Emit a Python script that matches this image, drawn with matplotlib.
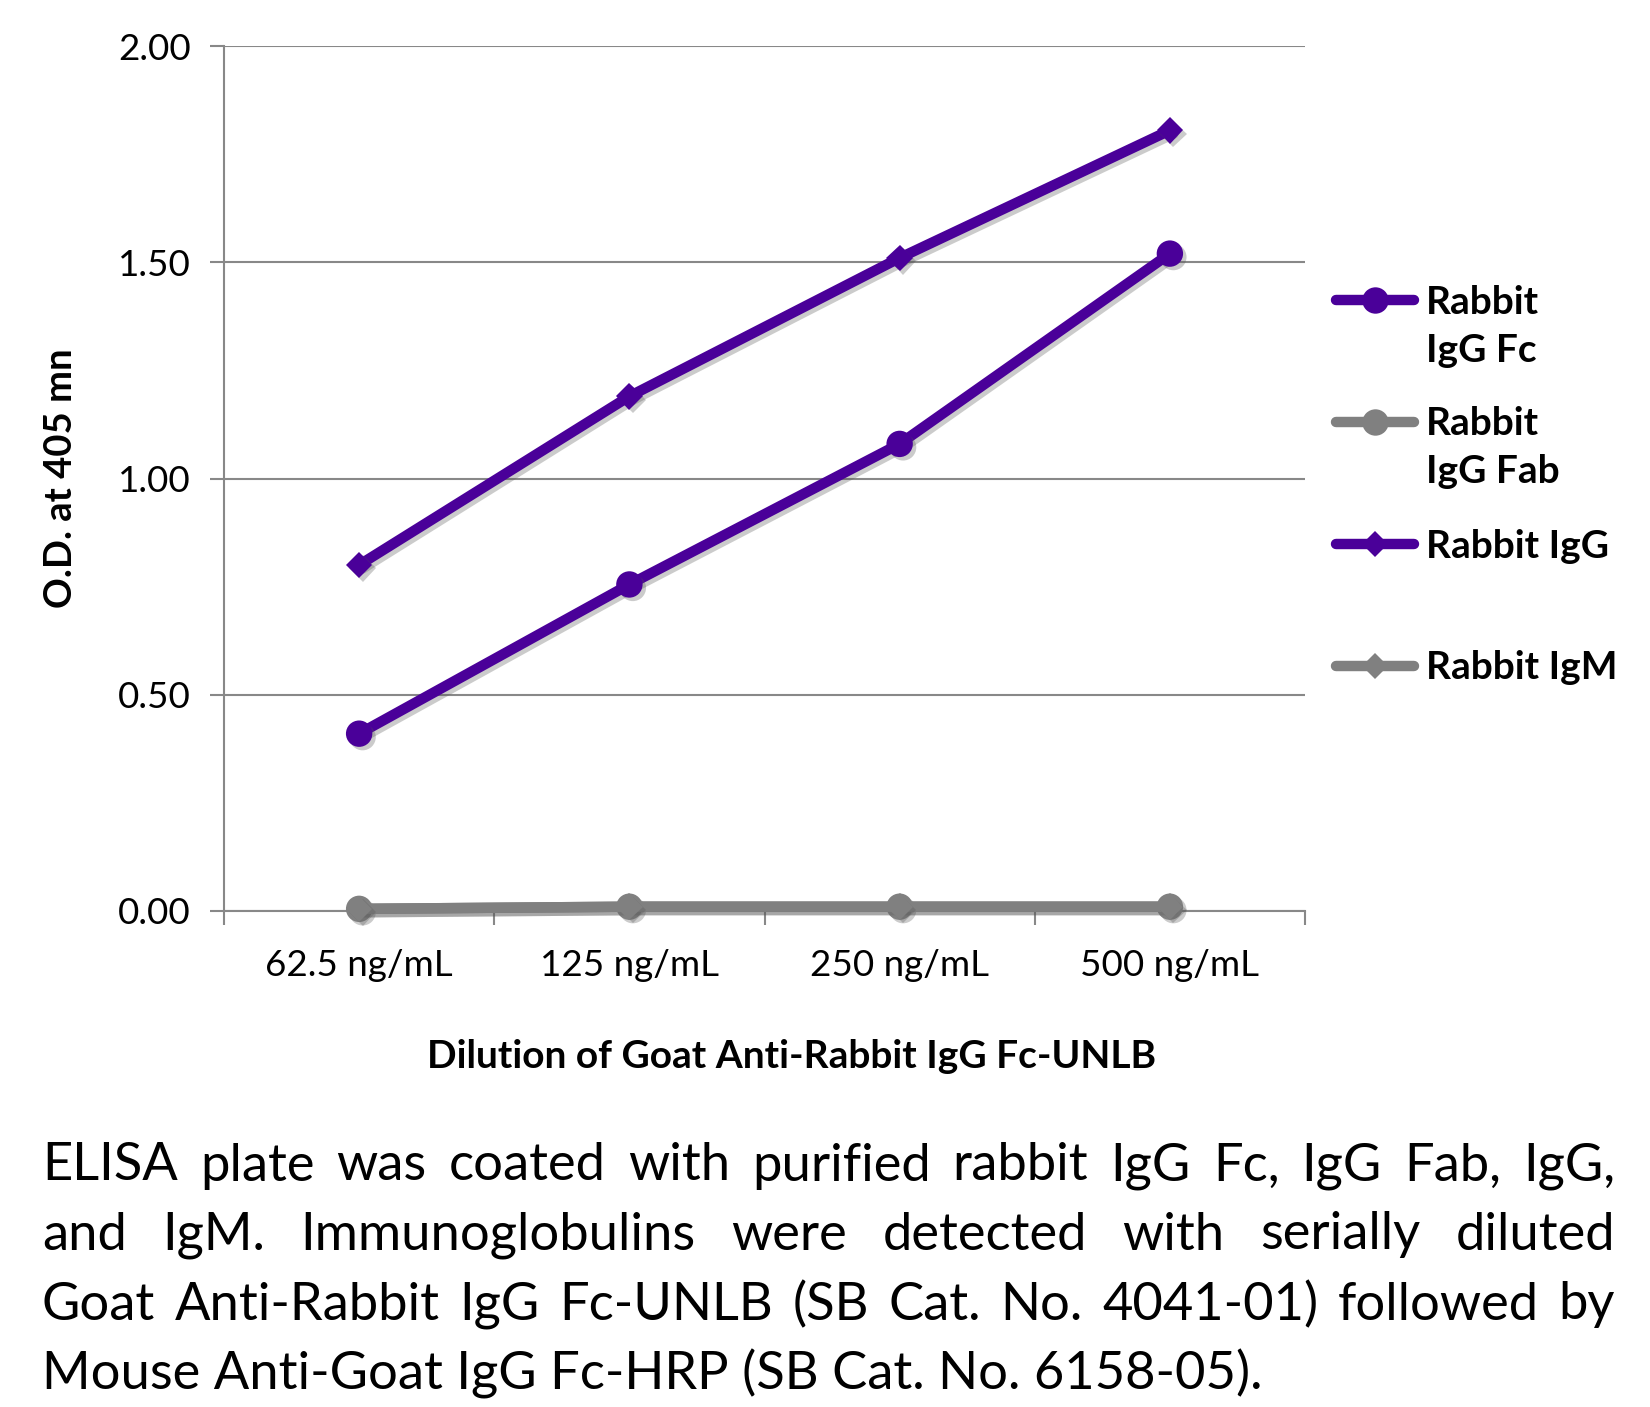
import matplotlib
matplotlib.use('Agg')
import matplotlib.pyplot as plt
import matplotlib.patheffects as pe
from matplotlib.lines import Line2D

plt.rcParams['font.family'] = ['Lato', 'DejaVu Sans']

# data
dilutions = ['62.5 ng/mL', '125 ng/mL', '250 ng/mL', '500 ng/mL']
igg_fc = [0.41, 0.755, 1.08, 1.52]
igg_fab = [0.005, 0.01, 0.01, 0.01]
igg = [0.80, 1.19, 1.51, 1.805]
igm = [0.005, 0.01, 0.01, 0.01]

series_names = ['Rabbit\nIgG Fc', 'Rabbit\nIgG Fab', 'Rabbit IgG', 'Rabbit IgM']
yticks = [0.0, 0.5, 1.0, 1.5, 2.0]

caption_lines = [
    'ELISA plate was coated with purified rabbit IgG Fc, IgG Fab, IgG,',
    'and IgM.  Immunoglobulins were detected with serially diluted',
    'Goat Anti-Rabbit IgG Fc-UNLB (SB Cat. No. 4041-01) followed by',
    'Mouse Anti-Goat IgG Fc-HRP (SB Cat. No. 6158-05).',
]

purple = '#4a0099'
gray = '#808080'

W, H = 1650, 1407
fig = plt.figure(figsize=(W / 100, H / 100), dpi=100)
ax = fig.add_axes([224 / W, 1 - 911 / H, (1305 - 224) / W, (911 - 46) / H])

line_shadow = [pe.SimpleLineShadow(offset=(2.5, -2.5), shadow_color='#555555', alpha=0.3), pe.Normal()]
mark_shadow = [pe.SimplePatchShadow(offset=(2.5, -2.5), shadow_rgbFace='#555555', alpha=0.3), pe.Normal()]

styles = [
    (igg_fc, purple, 'o', 19),
    (igg_fab, gray, 'o', 19),
    (igg, purple, 'D', 13.5),
    (igm, gray, 'D', 13.5),
]

x = list(range(len(dilutions)))
# gray ones first so purple sits on top
z = 3
for vals, col, mk, ms in [styles[1], styles[3], styles[0], styles[2]]:
    ax.plot(x, vals, color=col, lw=7.5, solid_capstyle='round',
            path_effects=line_shadow, zorder=z, clip_on=False)
    ax.plot(x, vals, ls='none', marker=mk, markersize=ms, color=col, markeredgewidth=0,
            path_effects=mark_shadow, zorder=z + 0.5, clip_on=False)
    z += 1

ax.set_xlim(-0.5, 3.5)
ax.set_ylim(0, 2.0)
ax.set_yticks(yticks)
ax.set_yticklabels(['%.2f' % v for v in yticks], fontsize=26.5)
ax.set_xticks(x)
ax.set_xticklabels(dilutions, fontsize=26.5)
ax.set_xticks([-0.5, 0.5, 1.5, 2.5, 3.5], minor=True)
ax.tick_params(axis='x', which='major', length=0, pad=27)
ax.tick_params(axis='x', which='minor', length=10, width=1.5, color='#888888', direction='out')
ax.tick_params(axis='y', length=10, width=1.5, color='#888888', pad=14)
ax.grid(True, axis='y', color='#888888', lw=1.5, zorder=0)
ax.set_axisbelow(True)
for s in ['top', 'right']:
    ax.spines[s].set_visible(False)
for s in ['left', 'bottom']:
    ax.spines[s].set_color('#888888')
    ax.spines[s].set_linewidth(1.5)

fig.text(61 / W, 1 - 478 / H, 'O.D. at 405 mn', rotation=90, fontsize=27.5,
         fontweight='bold', ha='center', va='center')
fig.text(792 / W, 1 - 1056 / H, 'Dilution of Goat Anti-Rabbit IgG Fc-UNLB', fontsize=28,
         fontweight='bold', ha='center', va='center')

# legend drawn by hand so each handle sits on the first text line
leg_y = [300, 422, 544, 666]
for (vals, col, mk, ms), name, yy in zip(styles, series_names, leg_y):
    yf = 1 - yy / H
    fig.add_artist(Line2D([1336 / W, 1375 / W, 1414 / W], [yf, yf, yf], transform=fig.transFigure,
                          color=col, lw=7.5, marker=mk, markersize=ms, markevery=[1],
                          markeredgewidth=0, solid_capstyle='round'))
    for k, part in enumerate(name.split('\n')):
        fig.text(1426 / W, 1 - (yy - 1 + k * 48) / H, part, fontsize=28, fontweight='bold',
                 ha='left', va='center_baseline')

# justified caption
fig.canvas.draw()
r = fig.canvas.get_renderer()
x0, x1 = 42, 1615
cap_fs = 37.8
cap_y = [1166, 1235, 1305, 1374]
for i, (line, yy) in enumerate(zip(caption_lines, cap_y)):
    words = line.split()
    if i == len(caption_lines) - 1:
        fig.text(x0 / W, 1 - yy / H, line, fontsize=cap_fs, ha='left', va='center')
        continue
    widths = []
    for w in words:
        t = fig.text(0, 0, w, fontsize=cap_fs)
        widths.append(t.get_window_extent(r).width)
        t.remove()
    gap = (x1 - x0 - sum(widths)) / (len(words) - 1)
    xp = x0
    for w, wd in zip(words, widths):
        fig.text(xp / W, 1 - yy / H, w, fontsize=cap_fs, ha='left', va='center')
        xp += wd + gap

fig.savefig('out.png', dpi=100)
